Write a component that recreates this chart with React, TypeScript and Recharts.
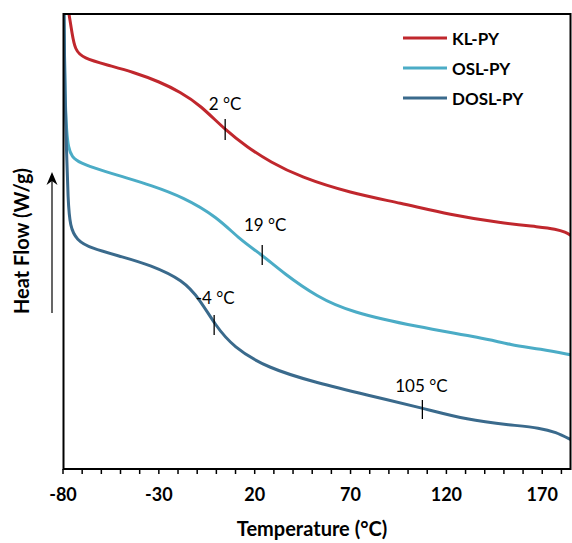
import React from 'react';
import { LineChart, Line, XAxis, YAxis, ReferenceLine, ReferenceDot } from 'recharts';

// Temperature (°C) and heat flow (arbitrary offset units, W/g)
const klTemp = [-76.87, -75.3, -73.73, -69.56, -57.02, -43.45, -29.35, -18.9, -8.46, 4.6, 16.08, 28.09, 43.76, 69.87, 95.98, 122.09, 148.2, 169.09, 176.92, 182.14, 185.27];
const klFlow = [4.55, 4.36, 4.19, 4.11, 4.04, 3.97, 3.87, 3.77, 3.64, 3.39, 3.22, 3.07, 2.92, 2.76, 2.66, 2.54, 2.46, 2.42, 2.40, 2.37, 2.33];

const oslTemp = [-79.48, -78.96, -78.07, -77.23, -75.46, -71.12, -60.68, -46.58, -34.57, -17.34, 0.42, 12.43, 23.92, 34.88, 52.64, 69.87, 104.86, 139.32, 153.42, 169.09, 185.27];
const oslFlow = [4.55, 3.69, 3.36, 3.22, 3.12, 3.06, 2.99, 2.91, 2.84, 2.72, 2.52, 2.29, 2.14, 1.96, 1.72, 1.57, 1.42, 1.31, 1.24, 1.2, 1.14];

const doslTemp = [-79.48, -78.96, -78.17, -77.39, -76.34, -72.85, -65.9, -48.67, -34.57, -17.34, -8.46, -0.63, 8.77, 26.53, 52.64, 78.75, 107.47, 130.97, 153.42, 169.09, 176.92, 185.27];
const doslFlow = [4.55, 3.69, 3.19, 2.69, 2.42, 2.29, 2.21, 2.12, 2.04, 1.89, 1.69, 1.44, 1.22, 1.01, 0.86, 0.74, 0.61, 0.49, 0.44, 0.41, 0.37, 0.29];

const xTicks = [-80, -70, -60, -50, -40, -30, -20, -10, 0, 10, 20, 30, 40, 50, 60, 70, 80, 90, 100, 110, 120, 130, 140, 150, 160, 170, 180];
const xLabels = [-80, -30, 20, 70, 120, 170];

// Transition annotations: label text, marker temperature, marker flow range, label position
const annLabels = ['2 °C', '19 °C', '-4 °C', '105 °C'];
const annMarkX = [4.6, 23.92, -1.15, 107.47];
const annMarkY1 = [3.5, 2.24, 1.54, 0.69];
const annMarkY2 = [3.29, 2.04, 1.34, 0.5];
const annTextX = [4.6, 25.48, -0.63, 106.95];
const annTextY = [3.65, 2.44, 1.71, 0.83];

const seriesNames = ['KL-PY', 'OSL-PY', 'DOSL-PY'];
const seriesColors = ['#C0272D', '#4BACC6', '#3A6A8C'];

const zip = (t: number[], f: number[]) => t.map((x, i) => ({ t: x, v: f[i] }));
const series = [zip(klTemp, klFlow), zip(oslTemp, oslFlow), zip(doslTemp, doslFlow)];

const FONT = 'Lato, "Open Sans", sans-serif';

export default function App() {
  return (
    <div style={{ position: 'absolute', left: 0, top: 0, width: 572, height: 543, background: '#fff' }}>
      <LineChart width={572} height={543} margin={{ top: 14, right: 1, bottom: 44, left: 63 }}>
        <XAxis
          type="number"
          dataKey="t"
          domain={[-80, 185]}
          ticks={xTicks}
          interval={0}
          allowDataOverflow
          height={30}
          axisLine={{ stroke: '#000', strokeWidth: 2 }}
          tickLine={{ stroke: '#000', strokeWidth: 1.5 }}
          tickSize={5}
          tickMargin={14}
          tickFormatter={(v: number) => (xLabels.includes(v) ? String(v) : '')}
          tick={{ fill: '#000', fontFamily: FONT, fontWeight: 700, fontSize: 18 }}
        />
        <YAxis type="number" domain={[0, 4.55]} hide allowDataOverflow />
        {series.map((d, i) => (
          <Line
            key={seriesNames[i]}
            data={d}
            dataKey="v"
            name={seriesNames[i]}
            type="basis"
            stroke={seriesColors[i]}
            strokeWidth={3}
            dot={false}
            isAnimationActive={false}
          />
        ))}
        {annLabels.map((l, i) => (
          <ReferenceLine
            key={'m' + l}
            segment={[{ x: annMarkX[i], y: annMarkY1[i] }, { x: annMarkX[i], y: annMarkY2[i] }]}
            stroke="#000"
            strokeWidth={1.3}
          />
        ))}
        {annLabels.map((l, i) => (
          <ReferenceDot
            key={'t' + l}
            x={annTextX[i]}
            y={annTextY[i]}
            r={0}
            fill="none"
            stroke="none"
            label={{ value: l, position: 'center', fill: '#000', fontSize: 17, fontFamily: FONT }}
          />
        ))}
      </LineChart>
      <svg width={572} height={543} style={{ position: 'absolute', left: 0, top: 0, pointerEvents: 'none' }}>
        <rect x={63.5} y={14} width={507} height={455} fill="none" stroke="#000" strokeWidth={2} />
        {seriesNames.map((n, i) => (
          <g key={n}>
            <line x1={403} x2={447} y1={38 + i * 30} y2={38 + i * 30} stroke={seriesColors[i]} strokeWidth={3} />
            <text x={452} y={38 + i * 30} dominantBaseline="central" fontFamily={FONT} fontWeight={700} fontSize={17} fill="#000">{n}</text>
          </g>
        ))}
        <text x={312} y={528} textAnchor="middle" dominantBaseline="central" fontFamily={FONT} fontWeight={700} fontSize={20} fill="#000">
          Temperature (°C)
        </text>
        <text x={21} y={241} textAnchor="middle" dominantBaseline="central" fontFamily={FONT} fontWeight={700} fontSize={20} fill="#000" transform="rotate(-90 21 241)">
          Heat Flow (W/g)
        </text>
        <line x1={52} y1={313} x2={52} y2={176} stroke="#000" strokeWidth={1.2} />
        <path d="M46.5,185 L52,172 L57.5,185 L52,181 Z" fill="#000" />
      </svg>
    </div>
  );
}
